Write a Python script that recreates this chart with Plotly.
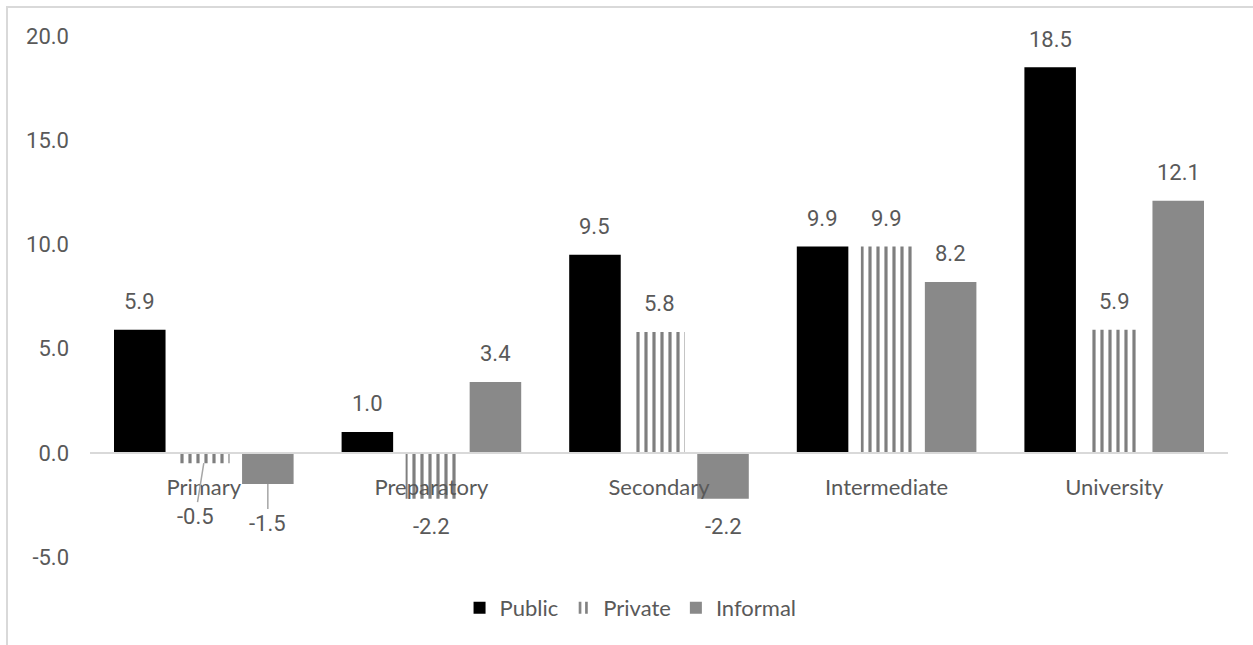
import plotly.graph_objects as go

categories = ["Primary", "Preparatory", "Secondary", "Intermediate", "University"]
public = [5.9, 1.0, 9.5, 9.9, 18.5]
private = [-0.5, -2.2, 5.8, 9.9, 5.9]
informal = [-1.5, 3.4, -2.2, 8.2, 12.1]
series_names = ["Public", "Private", "Informal"]
y_ticks = [-5, 0, 5, 10, 15, 20]
y_tick_labels = ["-5.0", "0.0", "5.0", "10.0", "15.0", "20.0"]

TEXT = "#595959"
NUMFONT = "Roboto"
CATFONT = "Lato"
BARGAP = 0.156
GROUPGAP = 0.195

fig = go.Figure()
fig.add_trace(go.Bar(name=series_names[0], x=categories, y=public,
                     marker=dict(color="#000000", line=dict(width=0))))
fig.add_trace(go.Bar(name=series_names[1], x=categories, y=private,
                     marker=dict(color="#ffffff", line=dict(width=0),
                                 pattern=dict(shape="|", fgcolor="#000000", bgcolor="#ffffff",
                                              size=8, solidity=0.4, fillmode="overlay"))))
fig.add_trace(go.Bar(name=series_names[2], x=categories, y=informal,
                     marker=dict(color="#898989", line=dict(width=0))))

slot = (1 - BARGAP) / 3
annotations = []
special = {(0, 1): (-8.5, 53), (0, 2): (0, 39)}
for s, vals in enumerate([public, private, informal]):
    for i, v in enumerate(vals):
        xpos = i + (s - 1) * slot
        if (i, s) in special:
            ax, ay = special[(i, s)]
            annotations.append(dict(x=xpos, y=v, xref="x", yref="y", text=f"{v:.1f}",
                                    showarrow=True, arrowhead=0, arrowwidth=1.5,
                                    arrowcolor="#a6a6a6", ax=ax, ay=ay, standoff=0,
                                    font=dict(family=NUMFONT, size=22, color=TEXT)))
        else:
            annotations.append(dict(x=xpos, y=v, xref="x", yref="y", text=f"{v:.1f}",
                                    showarrow=False, yanchor="middle",
                                    yshift=28 if v >= 0 else -28,
                                    font=dict(family=NUMFONT, size=22, color=TEXT)))

fig.update_layout(
    width=1253, height=645, autosize=False,
    margin=dict(l=90, r=25, t=36, b=88),
    paper_bgcolor="#ffffff", plot_bgcolor="#ffffff",
    barmode="group", bargap=BARGAP, bargroupgap=GROUPGAP,
    annotations=annotations,
    showlegend=True,
    legend=dict(orientation="h", x=0.475, xanchor="center", y=-0.098, yanchor="middle",
                font=dict(family=CATFONT, size=22, color=TEXT), bgcolor="rgba(0,0,0,0)"),
    xaxis=dict(type="category", showline=True, linecolor="#d9d9d9", linewidth=2,
               anchor="free", position=0.2, ticks="", showgrid=False, zeroline=False,
               tickfont=dict(family=CATFONT, size=22, color=TEXT), ticklabelstandoff=15),
    yaxis=dict(range=[-5, 20], tickvals=y_ticks, ticktext=y_tick_labels, showgrid=False,
               zeroline=False, showline=False, ticks="",
               tickfont=dict(family=NUMFONT, size=22, color=TEXT), ticklabelstandoff=20),
    shapes=[dict(type="rect", xref="paper", yref="paper",
                 x0=-(90 - 7) / 1138, x1=1.3, y0=-0.3, y1=1 + (36 - 7) / 521,
                 line=dict(color="#d9d9d9", width=2), fillcolor="rgba(0,0,0,0)",
                 layer="below")],
)

fig.write_html("out.html")
